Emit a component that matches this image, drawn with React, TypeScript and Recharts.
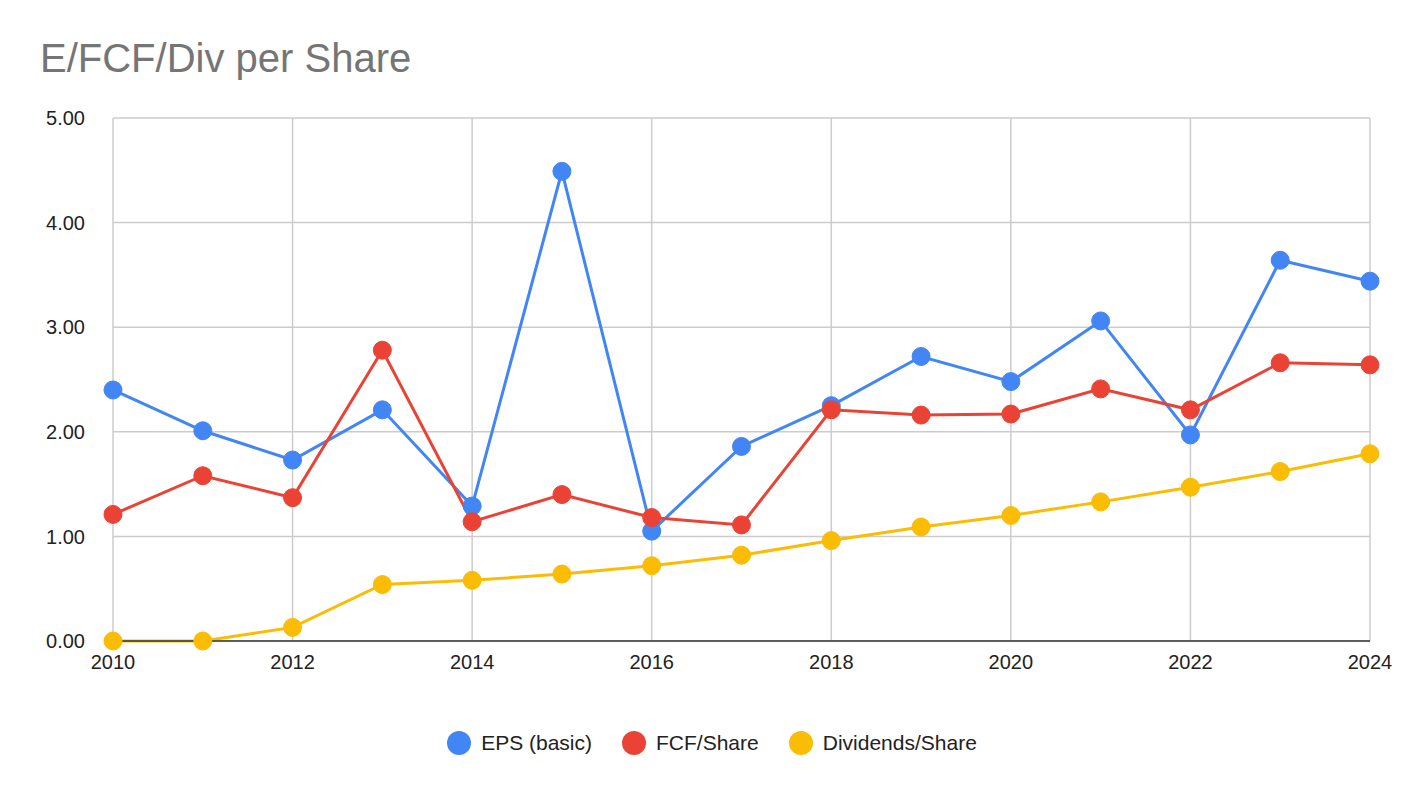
import { LineChart, Line, XAxis, YAxis, CartesianGrid } from "recharts";

const years = [2010, 2011, 2012, 2013, 2014, 2015, 2016, 2017, 2018, 2019, 2020, 2021, 2022, 2023, 2024];
const eps = [2.4, 2.01, 1.73, 2.21, 1.29, 4.49, 1.05, 1.86, 2.25, 2.72, 2.48, 3.06, 1.97, 3.64, 3.44];
const fcf = [1.21, 1.58, 1.37, 2.78, 1.14, 1.4, 1.18, 1.11, 2.21, 2.16, 2.17, 2.41, 2.21, 2.66, 2.64];
const divs = [0, 0, 0.13, 0.54, 0.58, 0.64, 0.72, 0.82, 0.96, 1.09, 1.2, 1.33, 1.47, 1.62, 1.79];
const xTicks = [2010, 2012, 2014, 2016, 2018, 2020, 2022, 2024];
const yTicks = [0, 1, 2, 3, 4, 5];

const data = years.map((y, i) => ({ year: y, eps: eps[i], fcf: fcf[i], div: divs[i] }));

const FONT = "Arial, 'Liberation Sans', sans-serif";

const series = [
  { key: "eps", name: "EPS (basic)", color: "#4285f4" },
  { key: "fcf", name: "FCF/Share", color: "#ea4335" },
  { key: "div", name: "Dividends/Share", color: "#fbbc04" },
];

export default function App() {
  return (
    <div style={{ position: "fixed", left: 0, top: 0, width: 1424, height: 798, background: "#fff", fontFamily: FONT }}>
      <div style={{ position: "absolute", left: 40, top: 36, fontSize: 40, color: "#757575" }}>E/FCF/Div per Share</div>
      <LineChart width={1424} height={798} data={data} margin={{ top: 118, right: 54, bottom: 127, left: 33 }}>
        <CartesianGrid stroke="#cccccc" strokeWidth={1.5} />
        <XAxis
          dataKey="year"
          type="number"
          domain={[2010, 2024]}
          ticks={xTicks}
          tickLine={false}
          axisLine={{ stroke: "#333", strokeWidth: 1.5 }}
          tick={{ fontSize: 20, fill: "#222", fontFamily: FONT }}
          tickMargin={8}
        />
        <YAxis
          domain={[0, 5]}
          ticks={yTicks}
          tickFormatter={(v: number) => v.toFixed(2)}
          axisLine={false}
          tickLine={false}
          width={80}
          tick={{ fontSize: 20, fill: "#222", fontFamily: FONT }}
          tickMargin={22}
        />
        {series.map((s) => (
          <Line
            key={s.key}
            dataKey={s.key}
            name={s.name}
            stroke={s.color}
            strokeWidth={3}
            dot={{ r: 9, fill: s.color, stroke: s.color, strokeWidth: 1 }}
            activeDot={false}
            isAnimationActive={false}
          />
        ))}
      </LineChart>
      <div style={{ position: "absolute", top: 731, left: 0, width: 1424, display: "flex", justifyContent: "center", marginLeft: 0, gap: 30, fontSize: 21, color: "#222" }}>
        {series.map((s) => (
          <div key={s.key} style={{ display: "flex", alignItems: "center", gap: 10 }}>
            <span style={{ width: 24, height: 24, borderRadius: 12, background: s.color, display: "inline-block" }} />
            <span>{s.name}</span>
          </div>
        ))}
      </div>
    </div>
  );
}
